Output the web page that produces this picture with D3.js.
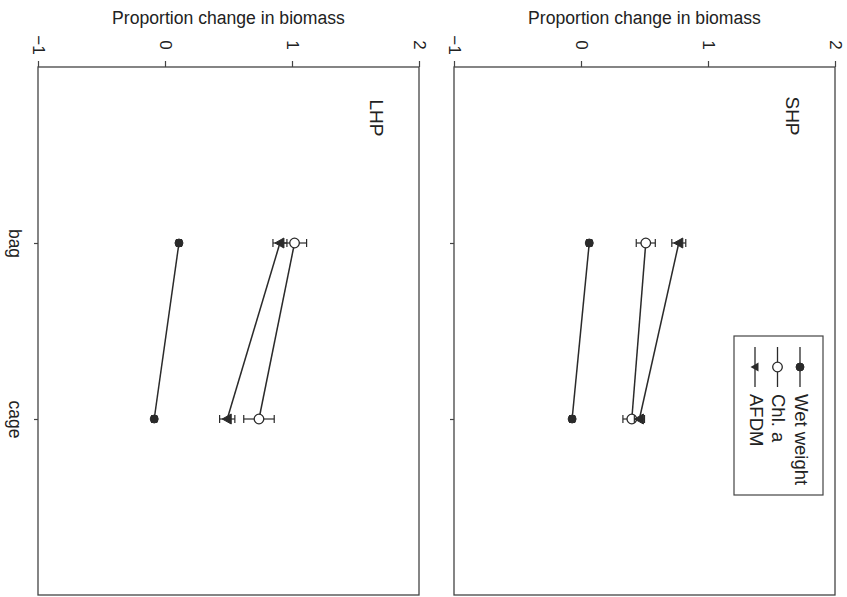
<!DOCTYPE html>
<html><head><meta charset="utf-8">
<script src="https://cdn.jsdelivr.net/npm/d3@7"></script>
<style>body{margin:0;background:#fff}svg{display:block}text{font-family:"Liberation Sans",Arial,sans-serif;fill:#222}</style>
</head><body><svg id="c" width="847" height="597"></svg>
<script>
const categories = ["bag", "cage"];
const panelNames = ["SHP", "LHP"];
const seriesNames = ["Wet weight", "Chl. a", "AFDM"];
const valueTicks = [-1, 0, 1, 2];
// SHP
const shpWet = [0.065, -0.07], shpWetErr = [0.02, 0.02];
const shpChl = [0.51, 0.40], shpChlErr = [0.075, 0.07];
const shpAfdm = [0.77, 0.46], shpAfdmErr = [0.055, 0.04];
// LHP
const lhpWet = [0.11, -0.085], lhpWetErr = [0.02, 0.02];
const lhpChl = [1.02, 0.74], lhpChlErr = [0.095, 0.12];
const lhpAfdm = [0.905, 0.49], lhpAfdmErr = [0.055, 0.06];

const panels = [
  {name: panelNames[0], x0: 454, x1: 835, labels: false,
   series: [[shpWet, shpWetErr], [shpChl, shpChlErr], [shpAfdm, shpAfdmErr]]},
  {name: panelNames[1], x0: 38, x1: 419, labels: true,
   series: [[lhpWet, lhpWetErr], [lhpChl, lhpChlErr], [lhpAfdm, lhpAfdmErr]]}
];
const plotTop = 67, plotBottom = 595;
const svg = d3.select("#c");
const ink = "#2a2a2a";
const y = d3.scaleLinear().domain([0, 3]).range([plotTop, plotBottom]);

function marker(g, type, cx, cy) {
  if (type === 0) g.append("circle").attr("cx", cx).attr("cy", cy).attr("r", 4).attr("fill", ink).attr("stroke", ink);
  else if (type === 1) g.append("circle").attr("cx", cx).attr("cy", cy).attr("r", 4.8).attr("fill", "#fff").attr("stroke", ink).attr("stroke-width", 1.3);
  else g.append("path").attr("d", d3.line()([[cx - 5, cy], [cx + 4, cy - 5], [cx + 4, cy + 5]]) + "Z").attr("fill", ink).attr("stroke", ink).attr("stroke-width", 1);
}

panels.forEach(p => {
  const x = d3.scaleLinear().domain([-1, 2]).range([p.x0, p.x1]);
  const g = svg.append("g");
  g.append("rect").attr("x", p.x0).attr("y", plotTop).attr("width", p.x1 - p.x0).attr("height", plotBottom - plotTop)
    .attr("fill", "none").attr("stroke", "#444").attr("stroke-width", 1.3);
  // value axis (top)
  const ax = g.append("g").attr("transform", `translate(0,${plotTop})`)
    .call(d3.axisTop(x).tickValues(valueTicks).tickSize(6).tickFormat(d3.format("d")));
  ax.attr("font-size", null).attr("font-family", null);
  ax.select(".domain").remove();
  ax.selectAll("line").attr("stroke", "#444").attr("stroke-width", 1.2);
  ax.selectAll("text").attr("y", 0).attr("dy", null).attr("transform", "translate(0,-22) rotate(90)")
    .attr("text-anchor", "middle").attr("dominant-baseline", "central").style("font-size", "17px").attr("fill", ink);
  // category axis (left)
  const cy = g.append("g").attr("transform", `translate(${p.x0},0)`)
    .call(d3.axisLeft(y).tickValues([1, 2]).tickSize(4).tickFormat(d => p.labels ? categories[d - 1] : ""));
  cy.attr("font-size", null).attr("font-family", null);
  cy.select(".domain").remove();
  cy.selectAll("line").attr("stroke", "#444").attr("stroke-width", 1.2);
  cy.selectAll("text").attr("x", 0).attr("dy", null).attr("transform", "translate(-23,0) rotate(90)")
    .attr("text-anchor", "middle").attr("dominant-baseline", "central").style("font-size", "17.5px").attr("fill", ink);
  // axis title
  g.append("text").attr("x", (p.x0 + p.x1) / 2).attr("y", 24).attr("text-anchor", "middle")
    .style("font-size", "17.6px").text("Proportion change in biomass");
  // panel label
  g.append("text").attr("transform", `translate(${p.x1 - 43},${p.name === "SHP" ? 116 : 118}) rotate(90)`)
    .attr("text-anchor", "middle").attr("dominant-baseline", "central").style("font-size", "19px").text(p.name);
  // series
  p.series.forEach(([vals, errs], si) => {
    const pts = vals.map((v, i) => [x(v), y(i + 1)]);
    g.append("path").attr("d", d3.line()(pts)).attr("fill", "none").attr("stroke", ink).attr("stroke-width", 1.5);
    vals.forEach((v, i) => {
      const yy = y(i + 1), a = x(v - errs[i]), b = x(v + errs[i]);
      g.append("line").attr("x1", a).attr("x2", b).attr("y1", yy).attr("y2", yy).attr("stroke", ink).attr("stroke-width", 1.2);
      [a, b].forEach(e => g.append("line").attr("x1", e).attr("x2", e).attr("y1", yy - 4).attr("y2", yy + 4).attr("stroke", ink).attr("stroke-width", 1.2));
    });
    vals.forEach((v, i) => marker(g, si, x(v), y(i + 1)));
  });
});

// legend
const lg = svg.append("g");
lg.append("rect").attr("x", 734).attr("y", 336).attr("width", 89).attr("height", 159)
  .attr("fill", "#fff").attr("stroke", "#444").attr("stroke-width", 1.2);
const legX = d3.scalePoint().domain(seriesNames).range([800, 755]);
seriesNames.forEach((s, i) => {
  const lx = legX(s);
  lg.append("line").attr("x1", lx).attr("x2", lx).attr("y1", 347).attr("y2", 387).attr("stroke", ink).attr("stroke-width", 1.3);
  if (i === 2) lg.append("path").attr("d", d3.line()([[lx - 4.5, 367], [lx + 3.5, 362.5], [lx + 3.5, 371.5]]) + "Z").attr("fill", ink);
  else marker(lg, i, lx, 367);
  lg.append("text").attr("transform", `translate(${lx + 1},394) rotate(90)`).attr("dominant-baseline", "central")
    .style("font-size", "18.5px").text(s);
});
</script></body></html>
